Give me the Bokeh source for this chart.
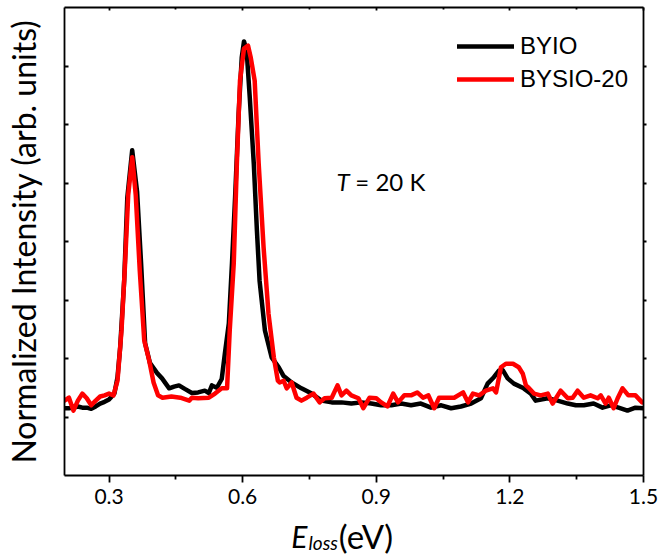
from bokeh.plotting import figure
from bokeh.layouts import column
from bokeh.models import (FixedTicker, LinearAxis, Legend, LegendItem, Label,
                          ColumnDataSource)
from bokeh.embed import file_html
from bokeh.resources import INLINE

# ---------------- data ----------------
E_byio = [0.200, 0.210, 0.220, 0.230, 0.240, 0.250, 0.260, 0.270, 0.280, 0.290,
          0.300, 0.312, 0.319, 0.325, 0.334, 0.341, 0.352, 0.363, 0.372, 0.381,
          0.392, 0.408, 0.419, 0.435, 0.446, 0.457, 0.470, 0.486, 0.500, 0.515,
          0.524, 0.531, 0.542, 0.553, 0.560, 0.569, 0.576, 0.583, 0.591, 0.598,
          0.603, 0.609, 0.616, 0.625, 0.632, 0.638, 0.650, 0.665, 0.681, 0.692,
          0.710, 0.732, 0.755, 0.777, 0.800, 0.822, 0.844, 0.867, 0.889, 0.911,
          0.934, 0.956, 0.978, 1.000, 1.023, 1.046, 1.068, 1.090, 1.113, 1.135,
          1.150, 1.164, 1.175, 1.184, 1.195, 1.209, 1.231, 1.247, 1.258, 1.285,
          1.307, 1.330, 1.348, 1.366, 1.388, 1.408, 1.426, 1.444, 1.464, 1.482,
          1.500]
I_byio = [1.15, 1.15, 1.16, 1.18, 1.16, 1.16, 1.14, 1.18, 1.23, 1.26,
          1.30, 1.40, 1.68, 2.19, 3.33, 4.75, 5.56, 4.85, 3.62, 2.26,
          1.92, 1.75, 1.66, 1.49, 1.52, 1.54, 1.48, 1.41, 1.42, 1.45,
          1.41, 1.54, 1.50, 1.65, 2.08, 2.60, 3.62, 4.75, 6.19, 7.15,
          7.42, 7.26, 6.46, 5.33, 4.19, 3.33, 2.48, 2.02, 1.85, 1.70,
          1.59, 1.49, 1.40, 1.28, 1.25, 1.25, 1.23, 1.25, 1.23, 1.20,
          1.20, 1.23, 1.20, 1.23, 1.16, 1.20, 1.15, 1.18, 1.23, 1.32,
          1.57, 1.68, 1.79, 1.80, 1.66, 1.57, 1.49, 1.40, 1.28, 1.32,
          1.28, 1.23, 1.20, 1.20, 1.23, 1.16, 1.20, 1.16, 1.11, 1.16,
          1.15]

E_bysio = [0.200, 0.210, 0.220, 0.230, 0.240, 0.250, 0.260, 0.270, 0.280, 0.290,
           0.300, 0.310, 0.319, 0.328, 0.336, 0.343, 0.352, 0.360, 0.369, 0.379,
           0.390, 0.400, 0.410, 0.420, 0.440, 0.460, 0.480, 0.486, 0.500, 0.524,
           0.538, 0.553, 0.565, 0.571, 0.580, 0.587, 0.594, 0.603, 0.612, 0.618,
           0.627, 0.636, 0.647, 0.658, 0.670, 0.679, 0.683, 0.692, 0.699, 0.710,
           0.721, 0.732, 0.744, 0.759, 0.773, 0.784, 0.800, 0.813, 0.822, 0.833,
           0.844, 0.860, 0.871, 0.885, 0.900, 0.911, 0.925, 0.938, 0.949, 0.963,
           0.978, 0.992, 1.005, 1.017, 1.030, 1.041, 1.061, 1.075, 1.095, 1.106,
           1.117, 1.131, 1.146, 1.162, 1.169, 1.180, 1.191, 1.207, 1.220, 1.229,
           1.236, 1.242, 1.254, 1.269, 1.285, 1.296, 1.314, 1.330, 1.341, 1.352,
           1.366, 1.381, 1.397, 1.404, 1.415, 1.422, 1.433, 1.442, 1.453, 1.466,
           1.482, 1.497]
I_bysio = [1.28, 1.33, 1.11, 1.28, 1.40, 1.32, 1.20, 1.28, 1.35, 1.37,
           1.40, 1.37, 1.62, 2.48, 3.62, 4.79, 5.44, 4.79, 3.50, 2.31,
           1.97, 1.59, 1.37, 1.33, 1.35, 1.33, 1.28, 1.33, 1.32, 1.33,
           1.40, 1.49, 1.49, 2.48, 3.62, 5.33, 6.75, 7.30, 7.35, 7.15,
           6.75, 5.33, 3.90, 2.77, 2.02, 1.62, 1.59, 1.62, 1.49, 1.59,
           1.33, 1.28, 1.33, 1.40, 1.25, 1.32, 1.33, 1.54, 1.37, 1.45,
           1.37, 1.32, 1.15, 1.33, 1.32, 1.25, 1.18, 1.40, 1.25, 1.37,
           1.37, 1.42, 1.33, 1.37, 1.15, 1.33, 1.33, 1.33, 1.42, 1.25,
           1.40, 1.37, 1.45, 1.49, 1.42, 1.85, 1.91, 1.91, 1.85, 1.74,
           1.54, 1.50, 1.40, 1.37, 1.40, 1.23, 1.45, 1.32, 1.33, 1.45,
           1.33, 1.37, 1.32, 1.37, 1.23, 1.33, 1.15, 1.32, 1.49, 1.37,
           1.37, 1.25]

x_ticks = [0.3, 0.6, 0.9, 1.2, 1.5]
x_tick_labels = ["0.3", "0.6", "0.9", "1.2", "1.5"]
x_minor = [0.45, 0.75, 1.05, 1.35]
y_ticks = [1, 2, 3, 4, 5, 6, 7]

series_names = ["BYIO", "BYSIO-20"]
series_colors = ["#000000", "#ff0000"]

# ---------------- main figure ----------------
p = figure(width=659, height=514, x_range=(0.2, 1.5), y_range=(0, 8),
           output_backend="svg", toolbar_location=None,
           min_border_left=62, min_border_right=16, min_border_top=7,
           min_border_bottom=39)
p.background_fill_color = "white"
p.border_fill_color = "white"
p.outline_line_color = None
p.xgrid.visible = False
p.ygrid.visible = False

AX_W = 1.8
xt = FixedTicker(ticks=x_ticks, minor_ticks=x_minor)
yt = FixedTicker(ticks=y_ticks, minor_ticks=[])
blank_y = {t: "" for t in y_ticks}
blank_x = {t: "" for t in x_ticks}

# bottom axis
xa = p.xaxis[0]
xa.ticker = xt
xa.major_label_overrides = {t: l for t, l in zip(x_ticks, x_tick_labels)}
xa.axis_line_width = AX_W
xa.axis_line_color = "black"
xa.major_tick_out = 7
xa.major_tick_in = 0
xa.minor_tick_out = 4
xa.minor_tick_in = 0
xa.major_tick_line_width = AX_W
xa.minor_tick_line_width = AX_W
xa.major_tick_line_color = "black"
xa.minor_tick_line_color = "black"
xa.major_label_text_font = "Lato"
xa.major_label_text_font_size = "21px"
xa.major_label_text_color = "black"
xa.major_label_standoff = 6

# left axis
ya = p.yaxis[0]
ya.ticker = yt
ya.major_label_overrides = blank_y
ya.axis_line_width = AX_W
ya.axis_line_color = "black"
ya.major_tick_in = 4
ya.major_tick_out = 0
ya.minor_tick_in = 0
ya.minor_tick_out = 0
ya.major_tick_line_width = AX_W
ya.major_tick_line_color = "black"
ya.major_label_text_font_size = "1px"
ya.major_label_standoff = 0
ya.axis_label = "Normalized Intensity (arb. units)"
ya.axis_label_text_font = "Lato"
ya.axis_label_text_font_size = "32px"
ya.axis_label_text_font_style = "normal"
ya.axis_label_text_color = "black"
ya.axis_label_standoff = 22

# top axis
ta = LinearAxis(ticker=xt, axis_line_width=AX_W, axis_line_color="black",
                major_tick_in=3, major_tick_out=0, minor_tick_in=2, minor_tick_out=0,
                major_tick_line_width=AX_W, minor_tick_line_width=AX_W,
                major_label_overrides=blank_x,
                major_label_text_font_size="1px", major_label_standoff=0)
p.add_layout(ta, "above")
# right axis
ra = LinearAxis(ticker=yt, axis_line_width=AX_W, axis_line_color="black",
                major_tick_in=0, major_tick_out=3, minor_tick_in=0, minor_tick_out=0,
                major_tick_line_width=AX_W,
                major_label_overrides=blank_y,
                major_label_text_font_size="1px", major_label_standoff=0)
p.add_layout(ra, "right")

# ---------------- data lines ----------------
src1 = ColumnDataSource(dict(x=E_byio, y=I_byio))
src2 = ColumnDataSource(dict(x=E_bysio, y=I_bysio))
r1 = p.line("x", "y", source=src1, line_color=series_colors[0], line_width=4.5,
            line_join="round", line_cap="round")
r2 = p.line("x", "y", source=src2, line_color=series_colors[1], line_width=4.5,
            line_join="round", line_cap="round")

legend = Legend(items=[LegendItem(label=series_names[0], renderers=[r1]),
                       LegendItem(label=series_names[1], renderers=[r2])],
                location=(393, 382), orientation="vertical",
                label_text_font="Liberation Sans", label_text_font_size="24px",
                label_text_color="black",
                glyph_width=57, glyph_height=26, label_height=26,
                label_standoff=6, spacing=5, padding=0, margin=0,
                border_line_alpha=0, background_fill_alpha=0)
p.add_layout(legend)

# ---------------- annotation in plot ----------------
p.add_layout(Label(x=0.8107, y=5.03, text="T", text_font="Lato",
                   text_font_style="italic", text_font_size="24px",
                   text_color="black", text_baseline="alphabetic"))
p.add_layout(Label(x=0.853, y=5.03, text="= 20 K", text_font="Lato",
                   text_font_size="24px", text_color="black",
                   text_baseline="alphabetic"))

# ---------------- x-axis title strip: E_loss (eV) ----------------
q = figure(width=659, height=43, x_range=p.x_range, y_range=(0, 43),
           output_backend="svg", toolbar_location=None, title=None,
           min_border_left=62, min_border_right=16, min_border_top=0,
           min_border_bottom=0)
q.xaxis.visible = False
q.yaxis.visible = False
q.xgrid.visible = False
q.ygrid.visible = False
q.outline_line_color = None
q.background_fill_color = "white"
q.border_fill_color = "white"

q.add_layout(Label(x=0.709, y=22, text="E", text_font="Lato",
                   text_font_style="italic", text_font_size="30px",
                   text_color="black", text_baseline="alphabetic"))
q.add_layout(Label(x=0.748, y=15, text="loss", text_font="Lato",
                   text_font_style="italic", text_font_size="19px",
                   text_color="black", text_baseline="alphabetic"))
q.add_layout(Label(x=0.816, y=22, text="(eV)", text_font="Lato",
                   text_font_size="33px", text_color="black",
                   text_baseline="alphabetic"))

layout = column(p, q, spacing=0)
open("out.html", "w").write(file_html(layout, INLINE))
